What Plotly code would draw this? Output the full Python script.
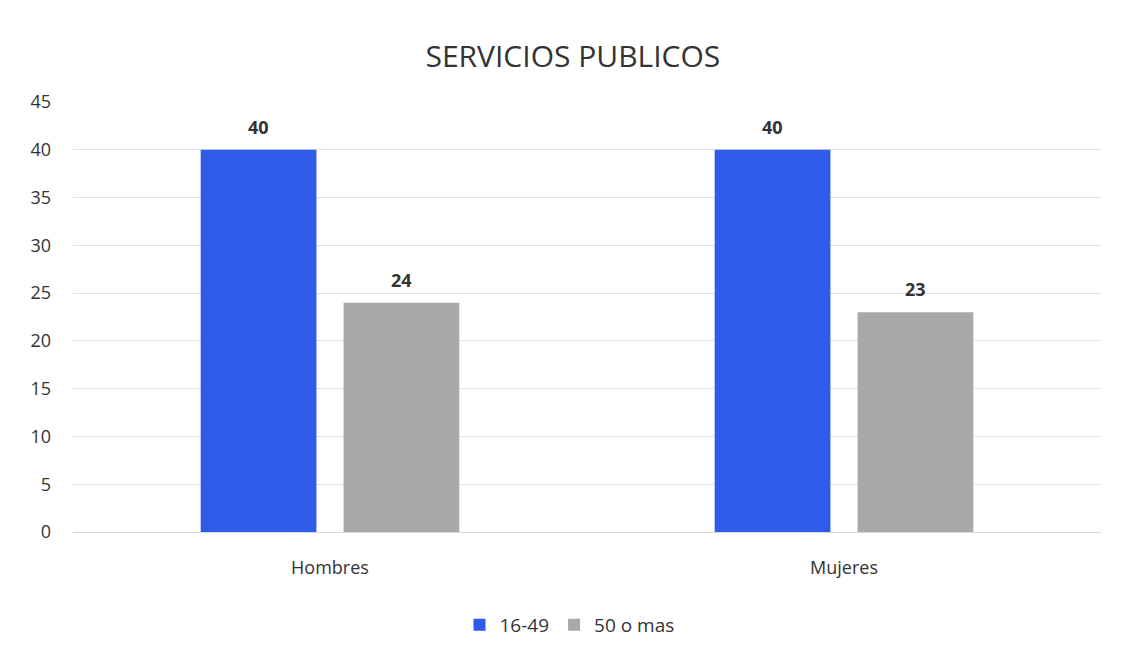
import plotly.graph_objects as go

categories = ["Hombres", "Mujeres"]
series_names = ["16-49", "50 o mas"]
values_1649 = [40, 40]
values_50 = [24, 23]
y_ticks = [0, 5, 10, 15, 20, 25, 30, 35, 40, 45]

colors = ["#2F5BEA", "#A9A9A9"]
font_family = "Open Sans, Liberation Sans, sans-serif"

BARGAP = 0.444
series_vals = [values_1649, values_50]

fig = go.Figure()
for name, vals, col in zip(series_names, series_vals, colors):
    fig.add_trace(go.Bar(
        x=categories, y=vals, name=name,
        marker=dict(color=col, line=dict(width=0)),
    ))

# data labels placed above each bar via axis coordinates
n = len(series_vals)
slot = (1 - BARGAP) / n
for s, vals in enumerate(series_vals):
    off = -(1 - BARGAP) / 2 + slot * (s + 0.5)
    for i, v in enumerate(vals):
        fig.add_annotation(x=i + off, y=v, text=f"<b>{v}</b>", showarrow=False,
                           yanchor="middle", yshift=23,
                           font=dict(size=18, color="#333333", family=font_family))

fig.update_layout(
    width=1123, height=669,
    paper_bgcolor="white", plot_bgcolor="white",
    title=dict(text="SERVICIOS PUBLICOS", x=0.503, xanchor="center", y=0.927, yanchor="middle",
               font=dict(size=30, color="#333333", family=font_family)),
    margin=dict(l=65, r=30, t=94, b=145, autoexpand=False),
    barmode="group", bargap=BARGAP, bargroupgap=0.19,
    font=dict(family=font_family, color="#444444"),
    showlegend=True,
    legend=dict(orientation="h", xref="container", x=0.5, xanchor="center",
                yref="container", y=0.078, yanchor="middle",
                font=dict(size=19, color="#333333"), itemsizing="constant"),
    xaxis=dict(showgrid=False, showline=True, linecolor="#D9D9D9", ticks="",
               ticklabelstandoff=19, automargin=False,
               tickfont=dict(size=18, color="#333333")),
    yaxis=dict(range=[0, 45], tickvals=y_ticks, showgrid=True, gridcolor="#E0E0E0",
               zeroline=False, showline=False, ticks="", ticklen=0,
               ticklabelstandoff=21, automargin=False,
               tickfont=dict(size=18, color="#333333")),
)

fig.write_html("out.html")
